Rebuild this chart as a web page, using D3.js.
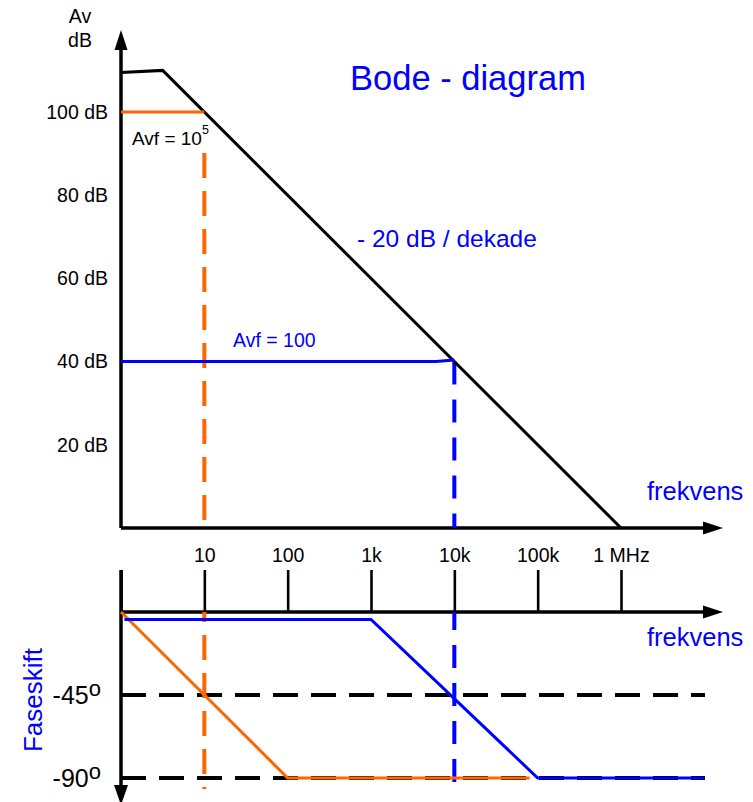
<!DOCTYPE html>
<html>
<head>
<meta charset="utf-8">
<script src="https://cdn.jsdelivr.net/npm/d3@7"></script>
<style>
  html, body { margin: 0; padding: 0; background: #fff; }
  svg { display: block; font-family: "Liberation Sans", Arial, sans-serif; }
</style>
</head>
<body>
<svg id="chart" width="753" height="802"></svg>
<script>
// ---------- data ----------
const freqTicks = [1, 10, 100, 1e3, 1e4, 1e5, 1e6];
const freqLabels = ["", "10", "100", "1k", "10k", "100k", "1 MHz"];
const gainTicks = [20, 40, 60, 80, 100];
const phaseTicks = [-45, -90];
const phaseLabels = ["-45", "-90"];

// open-loop gain (dB) vs frequency
const openLoopF = [1, 3.162, 1e6];
const openLoopDb = [109.5, 110, 0];
// closed loop Avf = 10^5 (100 dB)
const avf1F = [1, 10];
const avf1Db = [100, 100];
// closed loop Avf = 100 (40 dB)
const avf2F = [1, 6000, 10000];
const avf2Db = [40, 40, 40.4];
// phase (degrees)
const phase1F = [1, 100, 8e4];
const phase1Deg = [0, -90, -90];
const phase2F = [1.1, 1000, 1e5, 1e7];
const phase2Deg = [-4, -4, -90, -90];
// cut-off markers
const cutF = [10, 10000];
const cutDb = [100, 40];

// ---------- layout ----------
const svg = d3.select("#chart");
const BLUE = "#0000ff", ORANGE = "#ff6600";
const x = d3.scaleLog().domain([1, 1e6]).range([121, 621]);
const yG = d3.scaleLinear().domain([0, 100]).range([528, 112]);
const yP = d3.scaleLinear().domain([0, -90]).range([612, 778]);

const zip = (a, b) => a.map((v, i) => [v, b[i]]);
const lineG = d3.line().x(d => x(d[0])).y(d => yG(d[1]));
const lineP = d3.line().x(d => x(d[0])).y(d => yP(d[1]));

// ---------- upper panel ----------
// axes lines
svg.append("line").attr("x1", x(1)).attr("x2", x(1)).attr("y1", yG(0)).attr("y2", 45)
  .attr("stroke", "#000").attr("stroke-width", 3.5);
svg.append("path").attr("d", `M${x(1)},30 L${x(1)-6.5},50 L${x(1)+6.5},50 Z`).attr("fill", "#000");
svg.append("line").attr("x1", x(1)).attr("x2", 708).attr("y1", yG(0)).attr("y2", yG(0))
  .attr("stroke", "#000").attr("stroke-width", 3.5);
svg.append("path").attr("d", `M723,${yG(0)} L703,${yG(0)-6.5} L703,${yG(0)+6.5} Z`).attr("fill", "#000");

// gain axis labels
const gAxis = svg.append("g").attr("transform", `translate(${x(1)},0)`)
  .call(d3.axisLeft(yG).tickValues(gainTicks).tickSize(0).tickPadding(13).tickFormat(d => d + " dB"));
gAxis.select(".domain").remove();
gAxis.selectAll("text").attr("font-size", 19.5).attr("fill", "#000")
  .attr("font-family", "Liberation Sans, Arial, sans-serif");

svg.append("text").attr("x", 80).attr("y", 23).attr("text-anchor", "middle")
  .attr("font-size", 19.5).text("Av");
svg.append("text").attr("x", 80).attr("y", 47).attr("text-anchor", "middle")
  .attr("font-size", 19.5).text("dB");

// dashed cut-off verticals (upper)
svg.append("line").attr("x1", x(cutF[0])).attr("x2", x(cutF[0]))
  .attr("y1", 153).attr("y2", yG(0))
  .attr("stroke", ORANGE).attr("stroke-width", 4).attr("stroke-dasharray", "25,13");
svg.append("line").attr("x1", x(cutF[1])).attr("x2", x(cutF[1]))
  .attr("y1", yG(cutDb[1])).attr("y2", yG(0))
  .attr("stroke", BLUE).attr("stroke-width", 4).attr("stroke-dasharray", "23,15");

// gain curves
svg.append("path").attr("d", lineG(zip(openLoopF, openLoopDb)))
  .attr("fill", "none").attr("stroke", "#000").attr("stroke-width", 3);
svg.append("path").attr("d", lineG(zip(avf1F, avf1Db)))
  .attr("fill", "none").attr("stroke", ORANGE).attr("stroke-width", 3);
svg.append("path").attr("d", lineG(zip(avf2F, avf2Db)))
  .attr("fill", "none").attr("stroke", BLUE).attr("stroke-width", 3);

// texts
svg.append("text").attr("x", 350).attr("y", 90).attr("font-size", 34.5).attr("fill", BLUE)
  .text("Bode - diagram");
svg.append("text").attr("x", 357).attr("y", 247).attr("font-size", 24.5).attr("fill", BLUE)
  .text("- 20 dB / dekade");
const t1 = svg.append("text").attr("x", 132).attr("y", 145).attr("font-size", 19).attr("fill", "#000");
t1.append("tspan").text("Avf = 10");
t1.append("tspan").attr("font-size", 12.5).attr("dy", -11).text("5");
svg.append("text").attr("x", 233).attr("y", 347).attr("font-size", 19.5).attr("fill", BLUE)
  .text("Avf = 100");
svg.append("text").attr("x", 647).attr("y", 500).attr("font-size", 25.5).attr("fill", BLUE)
  .text("frekvens");

// ---------- lower panel ----------
const fAxis = svg.append("g").attr("transform", `translate(0,${yP(0)})`)
  .call(d3.axisTop(x).tickValues(freqTicks).tickSize(42).tickPadding(8)
    .tickFormat((d, i) => freqLabels[i]));
fAxis.select(".domain").remove();
fAxis.selectAll("line").attr("stroke", "#000").attr("stroke-width", 2.6);
fAxis.selectAll("text").attr("font-size", 19.5).attr("fill", "#000")
  .attr("font-family", "Liberation Sans, Arial, sans-serif");

svg.append("line").attr("x1", x(1)).attr("x2", 708).attr("y1", yP(0)).attr("y2", yP(0))
  .attr("stroke", "#000").attr("stroke-width", 3.5);
svg.append("path").attr("d", `M723,${yP(0)} L703,${yP(0)-6.5} L703,${yP(0)+6.5} Z`).attr("fill", "#000");
svg.append("line").attr("x1", x(1)).attr("x2", x(1)).attr("y1", 570).attr("y2", 790)
  .attr("stroke", "#000").attr("stroke-width", 3.5);
svg.append("path").attr("d", `M${x(1)},805 L${x(1)-7},785 L${x(1)+7},785 Z`).attr("fill", "#000");

// horizontal dashed reference lines
svg.selectAll(".pref").data(phaseTicks).join("line")
  .attr("x1", x(1)).attr("x2", 705).attr("y1", d => yP(d)).attr("y2", d => yP(d))
  .attr("stroke", "#000").attr("stroke-width", 4).attr("stroke-dasharray", "25,13");

// phase labels
const pl = svg.selectAll(".plab").data(phaseTicks).join("text")
  .attr("x", 101).attr("y", d => yP(d) + 9).attr("text-anchor", "end")
  .attr("font-size", 25).attr("fill", "#000");
pl.append("tspan").text((d, i) => phaseLabels[i]);
pl.append("tspan").attr("dy", -8).attr("font-size", 22).text("o");

svg.append("text").attr("transform", "translate(42,700) rotate(-90)")
  .attr("text-anchor", "middle").attr("font-size", 26).attr("fill", BLUE).text("Faseskift");
svg.append("text").attr("x", 647).attr("y", 646).attr("font-size", 25.5).attr("fill", BLUE)
  .text("frekvens");

// dashed cut-off verticals (lower)
svg.append("line").attr("x1", x(cutF[0])).attr("x2", x(cutF[0])).attr("y1", yP(0)).attr("y2", 789)
  .attr("stroke", ORANGE).attr("stroke-width", 4).attr("stroke-dasharray", "25,13")
  .attr("stroke-dashoffset", 15);
svg.append("line").attr("x1", x(cutF[1])).attr("x2", x(cutF[1])).attr("y1", yP(0)).attr("y2", 789)
  .attr("stroke", BLUE).attr("stroke-width", 4).attr("stroke-dasharray", "23,15")
  .attr("stroke-dashoffset", 5);

// phase curves
svg.append("path").attr("d", lineP(zip(phase1F, phase1Deg)))
  .attr("fill", "none").attr("stroke", ORANGE).attr("stroke-width", 3);
svg.append("path").attr("d", lineP(zip(phase2F, phase2Deg)))
  .attr("fill", "none").attr("stroke", BLUE).attr("stroke-width", 3);
</script>
</body>
</html>
